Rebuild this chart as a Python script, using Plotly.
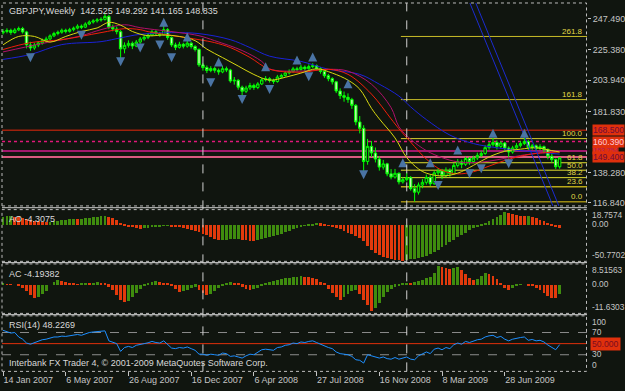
import plotly.graph_objects as go

W, H = 625, 391
BG = '#10150f'
FG = '#c4c4c4'
FONT = 'Liberation Sans'
FS = 9.0

# ---------------- data ----------------
date_idx = [0, 16, 32, 48, 64, 80, 96, 112, 128]
date_lbl = ['14 Jan 2007', '6 May 2007', '26 Aug 2007', '16 Dec 2007', '6 Apr 2008',
            '27 Jul 2008', '16 Nov 2008', '8 Mar 2009', '28 Jun 2009']

opens = [237.6, 238.5, 239.3, 237.8, 239.6, 240.6, 238.2, 229.0, 226.8, 228.9,
         230.4, 232.0, 233.2, 235.4, 237.1, 238.0, 239.4, 238.6, 239.8, 240.9,
         242.3, 241.6, 243.8, 245.2, 246.0, 246.7, 247.1, 249.2, 241.5, 240.3,
         238.4, 226.2, 228.7, 230.1, 228.2, 231.0, 233.2, 234.4, 236.0, 238.3,
         236.9, 236.1, 239.8, 234.2, 229.0, 227.3, 229.4, 228.1, 230.2, 227.9,
         225.8, 214.8, 212.9, 210.8, 212.2, 211.0, 209.8, 212.1, 211.2, 203.4,
         203.9, 199.0, 196.1, 198.4, 200.2, 198.8, 201.3, 204.2, 205.0, 203.8,
         203.0, 206.2, 207.3, 209.1, 210.2, 212.0, 211.6, 213.2, 212.1, 213.6,
         214.2, 212.0, 210.2, 207.1, 205.0, 202.8, 196.3, 193.0, 191.8, 190.2,
         186.1, 174.3, 169.8, 146.3, 157.0, 152.3, 148.0, 142.3, 144.6, 137.5,
         135.2, 137.9, 131.8, 133.4, 134.8, 127.0, 124.5, 129.6, 131.5, 135.0,
         130.5, 138.2, 139.5, 136.2, 140.0, 137.6, 143.5, 146.0, 144.3, 148.4,
         146.2, 148.8, 150.6, 152.0, 156.1, 158.2, 159.8, 157.0, 159.4, 155.8,
         153.0, 155.9, 157.5, 159.0, 160.5, 156.2, 157.4, 155.5, 156.8, 154.8,
         150.0, 147.6, 142.525]
highs = [240.2, 240.8, 240.5, 240.9, 242.0, 241.8, 239.0, 231.2, 230.4, 231.6,
         233.5, 234.8, 236.5, 238.3, 239.2, 240.6, 240.5, 241.1, 242.0, 243.6,
         243.5, 245.0, 246.4, 247.3, 248.0, 248.6, 251.1, 250.3, 243.4, 242.0,
         239.5, 230.8, 232.2, 231.4, 232.5, 234.6, 235.9, 237.5, 239.6, 239.4,
         238.2, 243.0, 240.9, 235.0, 230.6, 231.2, 230.5, 231.8, 231.0, 228.8,
         226.5, 216.2, 214.4, 213.9, 213.4, 212.3, 214.0, 213.6, 212.0, 206.2,
         204.7, 200.1, 200.0, 202.1, 201.5, 202.6, 205.7, 206.9, 206.1, 205.0,
         207.7, 208.6, 210.4, 211.6, 213.4, 213.5, 214.8, 214.4, 215.2, 216.0,
         215.1, 213.2, 211.0, 208.4, 206.0, 203.5, 198.2, 195.9, 194.6, 191.4,
         187.0, 178.5, 172.0, 162.3, 160.8, 156.2, 150.1, 147.4, 145.3, 140.9,
         141.0, 138.6, 135.1, 138.4, 135.9, 130.2, 131.4, 133.8, 137.0, 136.6,
         139.6, 141.6, 141.0, 142.1, 141.4, 145.2, 148.0, 147.6, 149.7, 149.5,
         150.3, 152.5, 153.9, 157.8, 160.1, 163.0, 161.3, 160.6, 160.2, 157.0,
         157.4, 159.3, 160.7, 163.3, 161.5, 158.8, 158.3, 158.5, 157.6, 155.6,
         151.8, 148.4, 149.292]
lows = [236.4, 237.2, 236.1, 236.9, 238.7, 237.0, 226.5, 224.8, 225.5, 227.4,
        229.1, 230.6, 232.3, 234.5, 235.8, 236.9, 237.2, 237.7, 238.6, 240.0,
        240.2, 240.9, 243.0, 244.1, 244.8, 245.5, 246.2, 240.2, 238.6, 236.5,
        219.5, 223.0, 227.1, 226.0, 227.4, 229.8, 232.0, 233.1, 235.2, 235.4,
        234.7, 235.5, 232.6, 227.6, 225.3, 226.4, 226.5, 227.0, 226.4, 224.3,
        213.4, 210.7, 209.0, 209.6, 209.2, 207.8, 208.9, 209.7, 202.1, 200.8,
        197.2, 192.0, 194.8, 197.0, 197.1, 197.6, 200.5, 203.0, 202.3, 201.4,
        202.2, 205.1, 206.4, 208.0, 209.3, 210.2, 210.8, 210.6, 211.3, 212.5,
        210.8, 208.6, 205.6, 203.2, 200.9, 194.8, 190.6, 188.7, 187.9, 183.6,
        172.0, 166.2, 139.0, 144.0, 149.5, 145.6, 139.8, 140.5, 135.8, 133.6,
        134.1, 130.0, 130.6, 132.2, 125.6, 117.8, 122.8, 127.3, 129.9, 128.9,
        129.7, 136.0, 133.7, 135.0, 135.4, 136.8, 142.0, 141.5, 143.1, 143.9,
        145.0, 147.3, 149.2, 151.0, 154.6, 156.9, 154.8, 155.6, 153.6, 148.3,
        151.8, 154.6, 156.2, 157.9, 154.4, 154.6, 153.6, 154.2, 152.1, 147.8,
        145.6, 140.9, 141.165]
closes = [238.5, 239.3, 237.8, 239.6, 240.6, 238.2, 229.0, 226.8, 228.9, 230.4,
          232.0, 233.2, 235.4, 237.1, 238.0, 239.4, 238.6, 239.8, 240.9, 242.3,
          241.6, 243.8, 245.2, 246.0, 246.7, 247.1, 249.2, 241.5, 240.3, 238.4,
          226.2, 228.7, 230.1, 228.2, 231.0, 233.2, 234.4, 236.0, 238.3, 236.9,
          236.1, 239.8, 234.2, 229.0, 227.3, 229.4, 228.1, 230.2, 227.9, 225.8,
          214.8, 212.9, 210.8, 212.2, 211.0, 209.8, 212.1, 211.2, 203.4, 203.9,
          199.0, 196.1, 198.4, 200.2, 198.8, 201.3, 204.2, 205.0, 203.8, 203.0,
          206.2, 207.3, 209.1, 210.2, 212.0, 211.6, 213.2, 212.1, 213.6, 214.2,
          212.0, 210.2, 207.1, 205.0, 202.8, 196.3, 193.0, 191.8, 190.2, 186.1,
          174.3, 169.8, 146.3, 157.0, 152.3, 148.0, 142.3, 144.6, 137.5, 135.2,
          137.9, 131.8, 133.4, 134.8, 127.0, 124.5, 129.6, 131.5, 135.0, 130.5,
          138.2, 139.5, 136.2, 140.0, 137.6, 143.5, 146.0, 144.3, 148.4, 146.2,
          148.8, 150.6, 152.0, 156.1, 158.2, 159.8, 157.0, 159.4, 155.8, 153.0,
          155.9, 157.5, 159.0, 160.5, 156.2, 157.4, 155.5, 156.8, 154.8, 150.0,
          147.6, 142.525, 148.835]
bars = list(range(len(closes)))

# moving averages (read at vertices)
ma_yellow_idx = [0, 4, 8, 12, 16, 20, 24, 27, 30, 33, 37, 41, 45, 49, 52, 56, 60, 64, 68, 72,
                 76, 80, 84, 88, 91, 94, 96, 100, 103, 106, 108, 112, 116, 120, 124, 128, 132, 136, 140, 142]
ma_yellow = [229, 235, 235, 231, 235, 238.5, 241, 245, 243, 238.5, 235.5, 236, 235, 232, 226, 220, 214, 208, 204, 206,
             209, 212, 209, 204, 197.6, 184, 176.5, 163, 149, 141, 138, 136, 138, 143.5, 149.5, 153.5, 155, 156, 154, 153]
ma_red_idx = [0, 7, 15, 25, 31, 35, 37, 50, 54, 58, 63, 68, 76, 83, 88, 94, 99, 101, 104, 108,
              112, 116, 120, 124, 128, 132, 136, 142]
ma_red = [225.7, 230.6, 232.7, 237.7, 240.5, 239.8, 238.4, 232.7, 230.6, 227.1, 220.1, 211.7, 209.6, 211.7, 208.1,
          194.1, 176.5, 169.5, 160, 148, 140, 137.5, 139, 143, 147, 150, 152, 153]
ma_mag_idx = [0, 10, 20, 25, 31, 35, 45, 50, 54, 61, 66, 68, 76, 83, 88, 94, 99, 101, 104, 108,
              112, 116, 120, 124, 128, 132, 136, 142]
ma_mag = [224, 230, 235.5, 239.8, 243.3, 241.2, 237.7, 235.5, 232, 225, 217.3, 212, 210.4, 211.7, 210.4, 201.1,
          184.5, 171, 162, 154, 149, 146, 145.5, 146.5, 148.5, 150.5, 152, 153.5]
ma_blue_idx = [0, 7, 15, 25, 30, 35, 43, 50, 58, 63, 68, 76, 83, 91, 96, 101, 104, 108, 114, 120,
               126, 132, 138, 142]
ma_blue = [218.7, 222.2, 229.2, 231.3, 234, 236.5, 237.7, 237, 232.7, 227.1, 221, 217.3, 211.7, 208.1, 201.1, 192.7,
           185, 176, 165, 159, 156, 154, 152.5, 151.5]

# trend lines (bar index, price) anchors
trend_a = [(119.1, 258.7), (140.3, 114.7)]
trend_b = [(120.6, 258.7), (141.8, 114.7)]

# fractals
frac_up_idx = [41, 47, 55, 67, 75, 79, 88, 102, 109, 116, 125, 133]
frac_up = [248.2, 237.7, 220.1, 216.6, 221.5, 223.6, 204.6, 148.5, 148.5, 157.6, 169.5, 169.5]
frac_dn_idx = [7, 20, 30, 35, 40, 43, 53, 61, 68, 78, 92, 111, 119, 122, 129]
frac_dn = [216.6, 232.7, 213.8, 223.6, 225.7, 216.6, 199.0, 187.1, 194.1, 203.2, 133.7, 126.0, 134.4, 137.9, 141.4]

# horizontal price lines
hline_vals = [168.5, 160.39, 153.754, 149.4]
hline_lbl = ['168.500', '160.390', '153.754', '149.400']

# fibonacci
fib_start_idx = 101.5
fib_low, fib_high = 117.7, 162.5
fib_levels = [0.0, 23.6, 38.2, 50.0, 61.8, 100.0, 161.8, 261.8]

# period separators
sep_idx = [51, 103]

ao = [12.2, 13.0, 13.4, 12.6, 11.8, 10.8, 9.4, 8.0, 6.8, 5.8,
      5.0, 4.3, 5.0, 5.8, 6.5, 7.2, 7.9, 8.6, 9.4, 8.6,
      9.4, 10.1, 10.8, 11.5, 12.2, 13.0, 13.7, 12.2, 10.1, 7.2,
      3.6, 0.7, -1.4, -2.9, -4.3, -5.0, -4.3, -3.6, -2.9, -2.2,
      -1.4, -1.0, -0.7, -1.4, -2.2, -2.9, -3.6, -5.0, -6.5, -7.9,
      -10.1, -12.2, -14.4, -16.6, -19.5, -21.0, -20.7, -20.5, -20.3, -20.2,
      -20.0, -20.9, -21.9, -22.5, -22.8, -21.6, -20.2, -18.7, -17.3, -15.9,
      -14.4, -12.2, -10.1, -7.9, -5.8, -3.6, -2.2, -0.7, 0.7, 2.2,
      2.9, 2.6, 1.4, -0.2, -1.4, -3.6, -5.8, -8.6, -10.8, -13.0,
      -15.9, -18.7, -23.1, -30.3, -36.0, -40.3, -43.2, -45.4, -46.8, -48.3,
      -49.7, -50.4, -50.77, -50.1, -49.0, -48.3, -47.6, -46.1, -44.0, -41.8,
      -38.9, -35.3, -31.7, -28.1, -24.5, -20.9, -17.3, -14.4, -10.8, -7.2,
      -4.3, -1.4, 0.7, 2.9, 5.8, 8.6, 11.5, 14.4, 18.76, 17.0,
      16.0, 15.0, 14.0, 13.3, 13.6, 12.2, 10.1, 7.9, 5.8, 3.6,
      1.4, -1.4, -4.3075]
ac = [0.45, 0.40, 0.22, 0.0, -0.45, -1.34, -2.68, -4.47, -5.81, -5.36,
      -4.02, -2.68, 0.0, 1.34, 2.24, 1.79, 1.34, 0.89, 0.45, 0.22,
      0.45, 0.67, 0.54, 0.89, 1.12, 0.89, 0.67, -0.89, -2.24, -4.47,
      -6.71, -7.60, -7.15, -5.36, -3.58, -1.79, -0.45, 0.89, 1.34, 1.56,
      1.34, 0.89, 0.45, -0.45, -1.79, -3.13, -2.68, -2.24, -1.34, -0.89,
      -2.24, -3.58, -4.47, -4.02, -2.68, -1.34, -0.45, 0.45, 1.12, 0.89,
      0.45, -0.89, -1.79, -2.24, -1.79, -1.34, -0.45, 0.45, 1.12, 1.56,
      2.01, 2.46, 2.91, 3.13, 3.35, 3.58, 3.80, 3.58, 3.35, 3.13,
      2.68, 1.34, 0.45, -1.79, -3.58, -5.36, -6.71, -5.36, -4.02, -2.68,
      -2.24, -4.02, -6.71, -8.94, -11.6303, -10.28, -8.05, -5.36, -3.13, -1.79,
      -0.89, -0.67, 0.45, 0.89, 0.67, 1.34, 1.79, 2.24, 3.13, 3.58,
      5.36, 8.51563, 8.05, 7.60, 7.15, 7.60, 8.05, 6.71, 4.92, 3.13,
      2.01, 2.68, 4.02, 5.36, 4.92, 4.02, 2.68, 0.45, -1.34, -2.24,
      -1.34, -0.45, 0.22, 0.0, -0.22, -0.45, -1.34, -2.24, -3.58, -4.92,
      -5.81, -6.03, -4.19382]
rsi = [74, 72, 69, 70, 62, 58, 51, 49, 52, 54.5,
       57, 58, 60, 62, 62, 63.5, 63, 64, 65, 66.5,
       65, 68, 70, 71, 71.5, 71.5, 73, 55, 53, 50,
       36, 43, 45, 43, 47, 49, 50, 51.5, 54, 52,
       51, 55, 48, 42, 41, 43, 42, 44, 41, 38,
       31, 31, 29, 31, 30, 29, 33, 32, 27, 28,
       26, 24, 28, 31, 30, 34, 39, 40, 39, 38,
       43, 44, 47, 48, 51, 50, 53, 52, 54, 55,
       52, 49, 45, 43, 41, 35, 32, 31, 30, 27,
       21, 20, 15, 30, 28, 26, 24, 26, 23, 22,
       25, 22, 24, 26, 22, 21, 28, 31, 35, 32,
       40, 42, 39, 43, 41, 48, 51, 49, 54, 52,
       55, 57, 58, 62, 64, 65, 61, 63, 58, 55,
       58, 60, 61, 62, 56, 57.5, 55, 56, 53, 47.5,
       44, 39, 48.2269]
rsi_levels = [70, 30]

main_ticks = [247.49, 225.38, 203.94, 181.83, 138.28, 116.84]
ao_ticks = [18.7574, 0.0, -50.7702]
ao_tick_lbl = ['18.7574', '0.00', '-50.7702']
ac_ticks = [8.51563, 0.0, -11.6303]
ac_tick_lbl = ['8.51563', '0.00', '-11.6303']
rsi_ticks = [100, 70, 30, 0]
rsi_tick_lbl = ['100', '70', '30', '0']

# ---------------- geometry helpers (pixels -> paper) ----------------
def pxx(x):
    return x / W

def pxy(y):
    return 1 - y / H

XR = [-0.26, 148.98]
PANELS = {'main': (3, 207), 'ao': (210.7, 262.7), 'ac': (265.3, 315), 'rsi': (317.5, 373.3)}

fig = go.Figure()

fig.add_trace(go.Candlestick(
    x=bars, open=opens, high=highs, low=lows, close=closes,
    increasing=dict(line=dict(color='#00ff00', width=1), fillcolor=BG),
    decreasing=dict(line=dict(color='#00ff00', width=1), fillcolor='#c6f7b0'),
    whiskerwidth=0, xaxis='x', yaxis='y', hoverinfo='skip'))

for xs, ys, col in [(ma_blue_idx, ma_blue, '#1a22d8'), (ma_mag_idx, ma_mag, '#b0106a'),
                    (ma_red_idx, ma_red, '#f01e0a'), (ma_yellow_idx, ma_yellow, '#d8d810')]:
    fig.add_trace(go.Scatter(x=xs, y=ys, mode='lines', line=dict(color=col, width=1, shape='spline'),
                             xaxis='x', yaxis='y', hoverinfo='skip'))

for tl in (trend_a, trend_b):
    fig.add_trace(go.Scatter(x=[p[0] for p in tl], y=[p[1] for p in tl], mode='lines',
                             line=dict(color='#1c2cd0', width=1), xaxis='x', yaxis='y', hoverinfo='skip'))

fig.add_trace(go.Scatter(x=frac_up_idx, y=frac_up, mode='markers',
                         marker=dict(symbol='arrow-up', size=9, color='#4a74a4'),
                         xaxis='x', yaxis='y', hoverinfo='skip'))
fig.add_trace(go.Scatter(x=frac_dn_idx, y=frac_dn, mode='markers',
                         marker=dict(symbol='arrow-down', size=9, color='#4a74a4'),
                         xaxis='x', yaxis='y', hoverinfo='skip'))

def hist_colors(vals):
    out = []
    for i, v in enumerate(vals):
        out.append('#3f8c0e' if i == 0 or v > vals[i - 1] else '#e23a0c')
    return out

fig.add_trace(go.Bar(x=bars, y=ao, width=0.72, marker=dict(color=hist_colors(ao), line=dict(width=0)),
                     xaxis='x2', yaxis='y2', hoverinfo='skip'))
fig.add_trace(go.Bar(x=bars, y=ac, width=0.72, marker=dict(color=hist_colors(ac), line=dict(width=0)),
                     xaxis='x3', yaxis='y3', hoverinfo='skip'))
fig.add_trace(go.Scatter(x=bars, y=rsi, mode='lines', line=dict(color='#1e8fff', width=1),
                         xaxis='x4', yaxis='y4', hoverinfo='skip'))

shapes = []
annotations = []
hstyles = [dict(color='#e8280c', width=1), dict(color='#e0187a', width=1.5, dash='dot'),
           dict(color='#a0186c', width=2), dict(color='#d85a80', width=2)]
for v, st in zip(hline_vals, hstyles):
    shapes.append(dict(type='line', xref='x', yref='y', x0=XR[0], x1=XR[1], y0=v, y1=v, line=st, layer='below'))

fib_cols = {0.0: '#9c8a12', 23.6: '#b8a818', 38.2: '#e0dc30', 50.0: '#e0dc30', 61.8: '#e0dc30',
            100.0: '#d8d030', 161.8: '#c8bc28', 261.8: '#c8bc28'}
for lv in fib_levels:
    p = fib_low + lv / 100.0 * (fib_high - fib_low)
    shapes.append(dict(type='line', xref='x', yref='y', x0=fib_start_idx, x1=XR[1], y0=p, y1=p,
                       line=dict(color=fib_cols[lv], width=1.5 if lv in (0.0, 23.6) else 1), layer='below'))
    annotations.append(dict(xref='paper', yref='y', x=pxx(585), y=p, xanchor='right', yanchor='bottom',
                            yshift=-1.5, text='%.1f' % lv, showarrow=False,
                            font=dict(family=FONT, size=8.0, color='#e0d848')))

for lv in rsi_levels:
    shapes.append(dict(type='line', xref='x4', yref='y4', x0=XR[0], x1=XR[1], y0=lv, y1=lv,
                       line=dict(color='#8c8c8c', width=1, dash='dash'), layer='below'))
shapes.append(dict(type='line', xref='x4', yref='y4', x0=XR[0], x1=XR[1], y0=50, y1=50,
                   line=dict(color='#e0300c', width=1), layer='below'))

for s in sep_idx:
    shapes.append(dict(type='line', xref='x', yref='paper', x0=s, x1=s, y0=pxy(373.3), y1=pxy(3),
                       line=dict(color='#d0d0d0', width=1, dash='dash'), layer='above'))

for name, (t, b) in PANELS.items():
    shapes.append(dict(type='rect', xref='paper', yref='paper', x0=pxx(2), x1=pxx(586.5), y0=pxy(b), y1=pxy(t),
                       line=dict(color='#bcbcbc', width=1, dash='dot'), layer='above'))
for y in (208.8, 264.0, 316.3):
    shapes.append(dict(type='line', xref='paper', yref='paper', x0=pxx(2), x1=pxx(587), y0=pxy(y), y1=pxy(y),
                       line=dict(color='#d4d4d4', width=1)))

# price label boxes on the right
lbl_txt_cols = ['#6e0c3c', '#ffc8d8', '#b02060', '#6e0c3c']
lbl_sizes = [8.6, 8.6, 7.0, 8.6]
for v, t, c, sz in zip(hline_vals, hline_lbl, lbl_txt_cols, lbl_sizes):
    annotations.append(dict(xref='paper', yref='y', x=pxx(592), y=v, xanchor='left', yanchor='middle',
                            text=t, showarrow=False, bgcolor='#e0300c', borderpad=0,
                            font=dict(family=FONT, size=sz, color=c)))
annotations.append(dict(xref='paper', yref='y4', x=pxx(590), y=50, xanchor='left', yanchor='middle',
                        text='50.000', showarrow=False, bgcolor='#e0300c', borderpad=1,
                        font=dict(family=FONT, size=8.6, color='#7a0c20')))

# indicator-window scale labels, kept inside each window like the terminal does
def side_labels(yref, vals, txts, shifts):
    for v, t, sh in zip(vals, txts, shifts):
        annotations.append(dict(xref='paper', yref=yref, x=pxx(589.5), y=v, xanchor='left', yanchor='middle',
                                yshift=sh, text=t, showarrow=False, font=dict(family=FONT, size=8.4, color=FG)))

side_labels('y2', ao_ticks, ao_tick_lbl, [-3, 1, 5])
side_labels('y3', ac_ticks, ac_tick_lbl, [-4, 1, 4])
side_labels('y4', rsi_ticks, rsi_tick_lbl, [-6, 1, 1, 6])

def label(x, y, text):
    annotations.append(dict(xref='paper', yref='paper', x=pxx(x), y=pxy(y), xanchor='left', yanchor='middle',
                            text=text, showarrow=False, font=dict(family=FONT, size=FS, color='#d8d8d8')))

label(7, 11, 'GBPJPY,Weekly  %.3f %.3f %.3f %.3f' % (opens[-1], highs[-1], lows[-1], closes[-1]))
label(7, 220, 'AO %.4f' % ao[-1])
label(7, 275.5, 'AC %.5f' % ac[-1])
label(7, 326.5, 'RSI(14) %.4f' % rsi[-1])
label(7, 365, 'Interbank FX Trader 4, © 2001-2009 MetaQuotes Software Corp.')

axfont = dict(family=FONT, size=FS, color=FG)

def xax(anchor, show=False):
    d = dict(domain=[pxx(2), pxx(587)], range=XR, anchor=anchor, showgrid=False, zeroline=False,
             showline=False, rangeslider=dict(visible=False), fixedrange=True)
    if show:
        d.update(tickvals=date_idx, ticktext=date_lbl, ticks='outside', ticklen=4, tickcolor=FG,
                 ticklabelposition='outside right', tickfont=axfont, showticklabels=True)
    else:
        d.update(showticklabels=False, ticks='')
    return d

def yax(anchor, dom, rng, vals=None, txt=None):
    d = dict(domain=[pxy(dom[1]), pxy(dom[0])], range=rng, anchor=anchor, side='right',
             showgrid=False, zeroline=False, showline=False, fixedrange=True)
    if vals is not None:
        d.update(tickvals=vals, ticktext=txt, ticks='outside', ticklen=3, tickcolor=FG, tickfont=axfont)
    else:
        d.update(showticklabels=False, ticks='')
    return d

fig.update_layout(
    width=W, height=H, margin=dict(l=0, r=0, t=0, b=0),
    paper_bgcolor=BG, plot_bgcolor=BG, showlegend=False, bargap=0,
    boxgap=0.38, boxgroupgap=0.0,
    xaxis=xax('y'), xaxis2=xax('y2'), xaxis3=xax('y3'), xaxis4=xax('y4', True),
    yaxis=yax('x', PANELS['main'], [114.74, 258.73], main_ticks, ['%.3f' % v for v in main_ticks]),
    yaxis2=yax('x2', PANELS['ao'], [-52.5, 22.0]),
    yaxis3=yax('x3', PANELS['ac'], [-12.84, 9.4]),
    yaxis4=yax('x4', PANELS['rsi'], [0, 100]),
    shapes=shapes, annotations=annotations,
)

fig.write_html('out.html')
